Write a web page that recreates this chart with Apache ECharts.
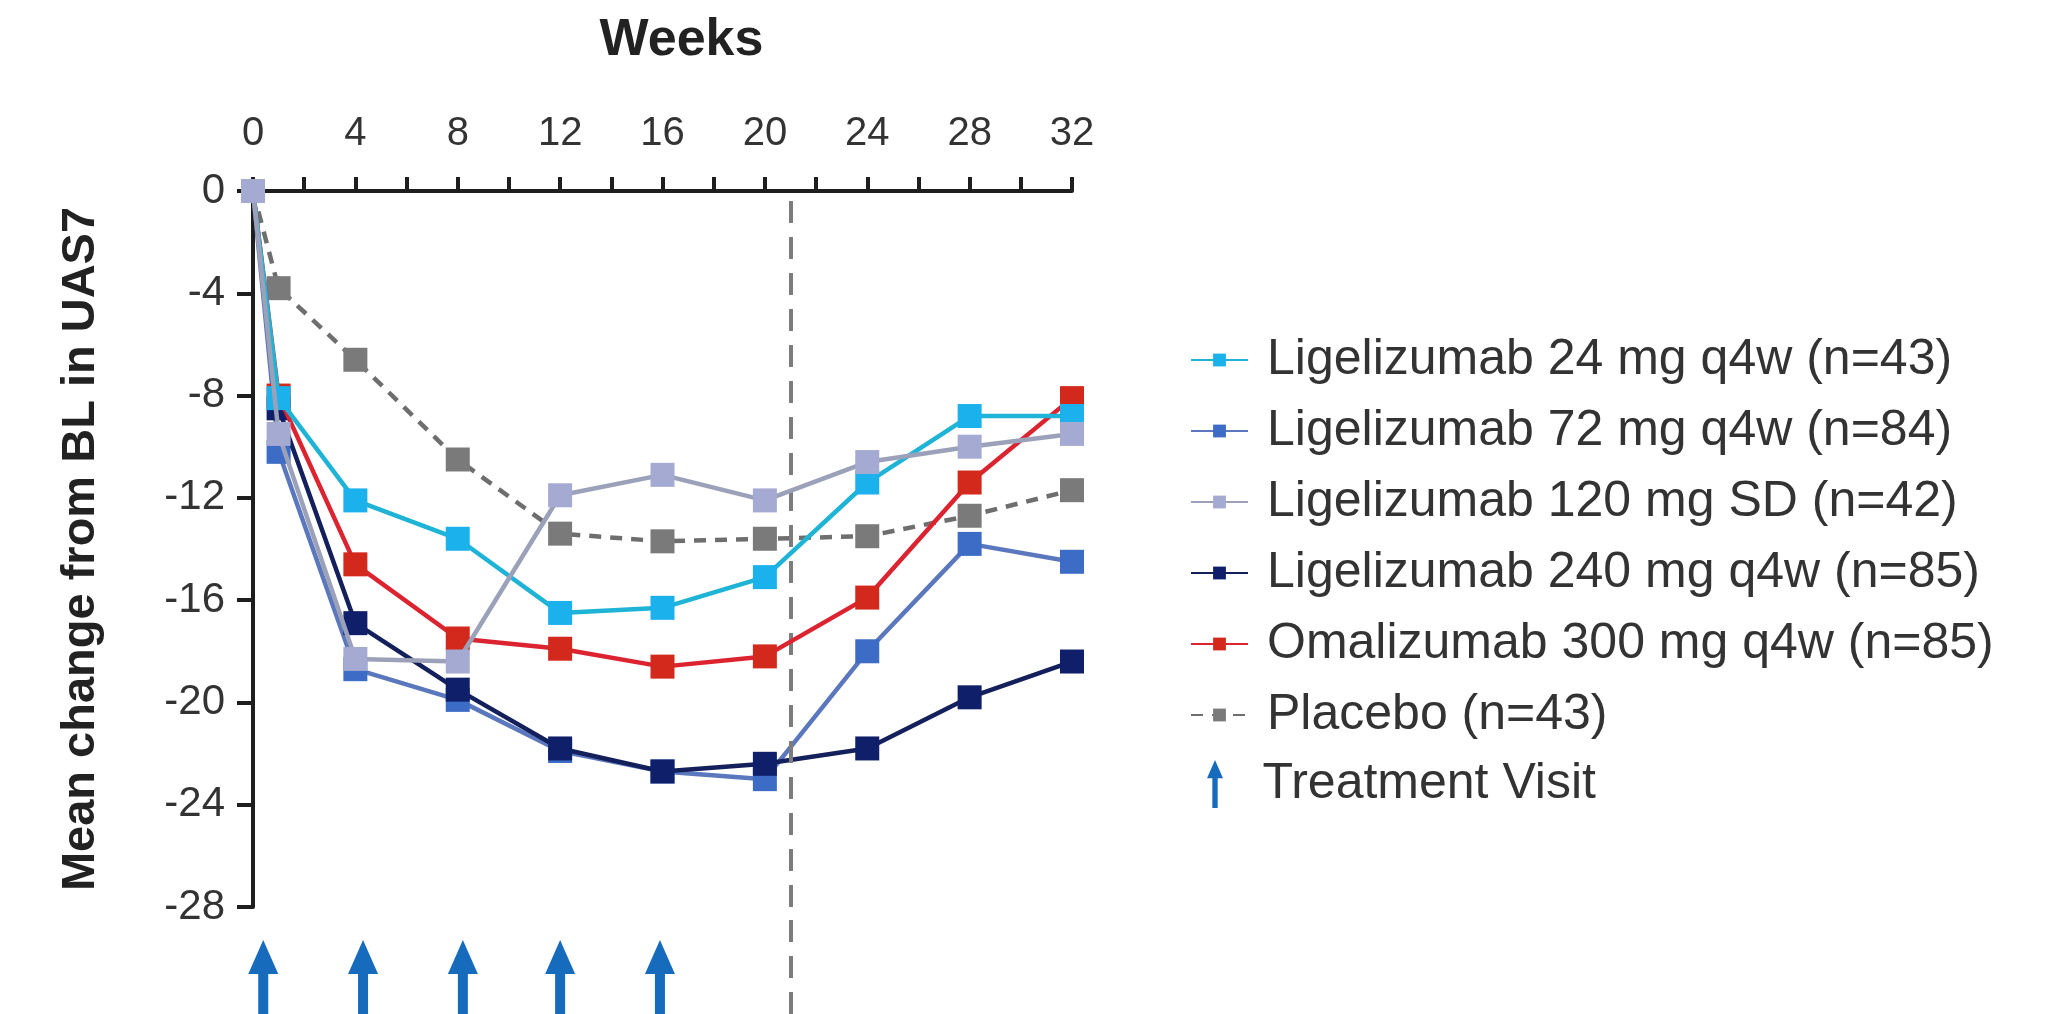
<!DOCTYPE html>
<html>
<head>
<meta charset="utf-8">
<title>Mean change from BL in UAS7</title>
<script src="https://cdn.jsdelivr.net/npm/echarts@6/dist/echarts.min.js"></script>
<style>
  html, body { margin: 0; padding: 0; background: #ffffff; }
  #chart { width: 2054px; height: 1014px; }
</style>
</head>
<body>
<div id="chart"></div>
<script>
// x values (weeks) of the measurement visits
var weeks = [0, 1, 4, 8, 12, 16, 20, 24, 28, 32];

// mean change from baseline in UAS7, one array per arm
var lige24  = [0, -8.1, -12.1, -13.6, -16.5, -16.3, -15.1, -11.4, -8.8, -8.8];
var lige72  = [0, -10.2, -18.7, -19.9, -21.9, -22.7, -23.0, -18.0, -13.8, -14.5];
var lige120 = [0, -9.5, -18.3, -18.4, -11.9, -11.1, -12.1, -10.6, -10.0, -9.5];
var lige240 = [0, -8.5, -16.9, -19.5, -21.8, -22.7, -22.4, -21.8, -19.8, -18.4];
var omali   = [0, -8.0, -14.6, -17.5, -17.9, -18.6, -18.2, -15.9, -11.4, -8.1];
var placebo = [0, -3.8, -6.6, -10.5, -13.4, -13.7, -13.6, -13.5, -12.7, -11.7];

var names = [
  'Ligelizumab 24 mg q4w (n=43)',
  'Ligelizumab 72 mg q4w (n=84)',
  'Ligelizumab 120 mg SD (n=42)',
  'Ligelizumab 240 mg q4w (n=85)',
  'Omalizumab 300 mg q4w (n=85)',
  'Placebo (n=43)'
];

// treatment visits (arrows under the plot) and end-of-treatment line
var visitWeeks = [0.4, 4.3, 8.2, 12, 15.9];
var treatmentEnd = 21;

var arrowPath = 'path://M15,0 L30,34 L20,34 L20,90 L10,90 L10,34 L0,34 Z';
var axisColor = '#1e1e1e';
var font = 'Liberation Sans, Arial, sans-serif';
var endLine = { color: '#7c7c7c', width: 4, type: [22, 14] };

function pairs(ys) {
  return weeks.map(function (w, i) { return [w, ys[i]]; });
}

function lineSeries(name, ys, color, lineColor, dashed, z) {
  return {
    name: name,
    type: 'line',
    xAxisIndex: 0,
    yAxisIndex: 0,
    data: pairs(ys),
    symbol: 'rect',
    symbolSize: 24,
    z: z,
    itemStyle: { color: color },
    lineStyle: { color: lineColor, width: 4.5, type: dashed ? [12, 9] : 'solid' }
  };
}

var myChart = echarts.init(document.getElementById('chart'));
var option = {
  backgroundColor: '#ffffff',
  animation: false,
  textStyle: { fontFamily: font },
  grid: [
    { left: 253, top: 191, width: 819, height: 716 },
    { left: 253, top: 907, width: 819, bottom: 0 }
  ],
  legend: [
    {
      data: names,
      orient: 'vertical',
      left: 1185,
      top: 330,
      itemWidth: 57,
      itemHeight: 16,
      itemGap: 21,
      textStyle: { fontSize: 50, lineHeight: 48, color: '#333333', fontFamily: font, padding: [0, 0, 0, 14] }
    },
    {
      data: [{ name: 'Treatment Visit', icon: arrowPath }],
      orient: 'vertical',
      left: 1202,
      top: 754,
      itemWidth: 57,
      itemHeight: 48,
      itemStyle: { color: '#176bbd', opacity: 1 },
      textStyle: { fontSize: 50, lineHeight: 48, color: '#333333', fontFamily: font, padding: [0, 0, 0, 14] }
    }
  ],
  xAxis: [
    {
      type: 'value',
      gridIndex: 0,
      position: 'top',
      min: 0,
      max: 32,
      interval: 4,
      name: 'Weeks',
      nameLocation: 'middle',
      nameGap: 124,
      nameTextStyle: { fontSize: 52, fontWeight: 'bold', color: '#222222', padding: [0, 0, 0, 38] },
      axisLine: { onZero: false, lineStyle: { color: axisColor, width: 4 } },
      axisTick: { length: 14, lineStyle: { color: axisColor, width: 4 } },
      minorTick: { show: true, splitNumber: 2, length: 14, lineStyle: { color: axisColor, width: 4 } },
      axisLabel: { fontSize: 40, color: '#333333', margin: 37 },
      splitLine: { show: false }
    },
    {
      type: 'value',
      gridIndex: 1,
      min: 0,
      max: 32,
      show: false
    }
  ],
  yAxis: [
    {
      type: 'value',
      gridIndex: 0,
      min: -28,
      max: 0,
      interval: 4,
      name: 'Mean change from BL in UAS7',
      nameLocation: 'middle',
      nameGap: 148,
      nameTextStyle: { fontSize: 47, fontWeight: 'bold', color: '#222222' },
      axisLine: { onZero: false, lineStyle: { color: axisColor, width: 4 } },
      axisTick: { length: 16, lineStyle: { color: axisColor, width: 4 } },
      axisLabel: { fontSize: 42, color: '#333333', margin: 28 },
      splitLine: { show: false }
    },
    {
      type: 'value',
      gridIndex: 1,
      min: 0,
      max: 1,
      show: false
    }
  ],
  series: [
    (function () {
      var s = lineSeries(names[5], placebo, '#7a7a7a', '#6e6e6e', true, 2);
      s.markLine = {
        silent: true,
        symbol: 'none',
        label: { show: false },
        lineStyle: endLine,
        data: [{ xAxis: treatmentEnd }]
      };
      return s;
    })(),
    lineSeries(names[1], lige72, '#3c6cc6', '#5b78be', false, 3),
    lineSeries(names[3], lige240, '#0f1f6a', '#14205c', false, 4),
    lineSeries(names[4], omali, '#d3281c', '#dc2330', false, 5),
    lineSeries(names[0], lige24, '#1bb1ec', '#1fb4d6', false, 6),
    lineSeries(names[2], lige120, '#a4aad2', '#9ba1b8', false, 7),
    {
      name: 'Treatment Visit',
      type: 'scatter',
      xAxisIndex: 1,
      yAxisIndex: 1,
      data: visitWeeks.map(function (w) { return [w, 0]; }),
      symbol: arrowPath,
      symbolSize: [30, 90],
      symbolKeepAspect: false,
      symbolOffset: [0, -29],
      itemStyle: { color: '#176bbd', opacity: 1 },
      markLine: {
        silent: true,
        symbol: 'none',
        label: { show: false },
        lineStyle: endLine,
        data: [{ xAxis: treatmentEnd }]
      }
    }
  ]
};
myChart.setOption(option, true);
</script>
</body>
</html>
